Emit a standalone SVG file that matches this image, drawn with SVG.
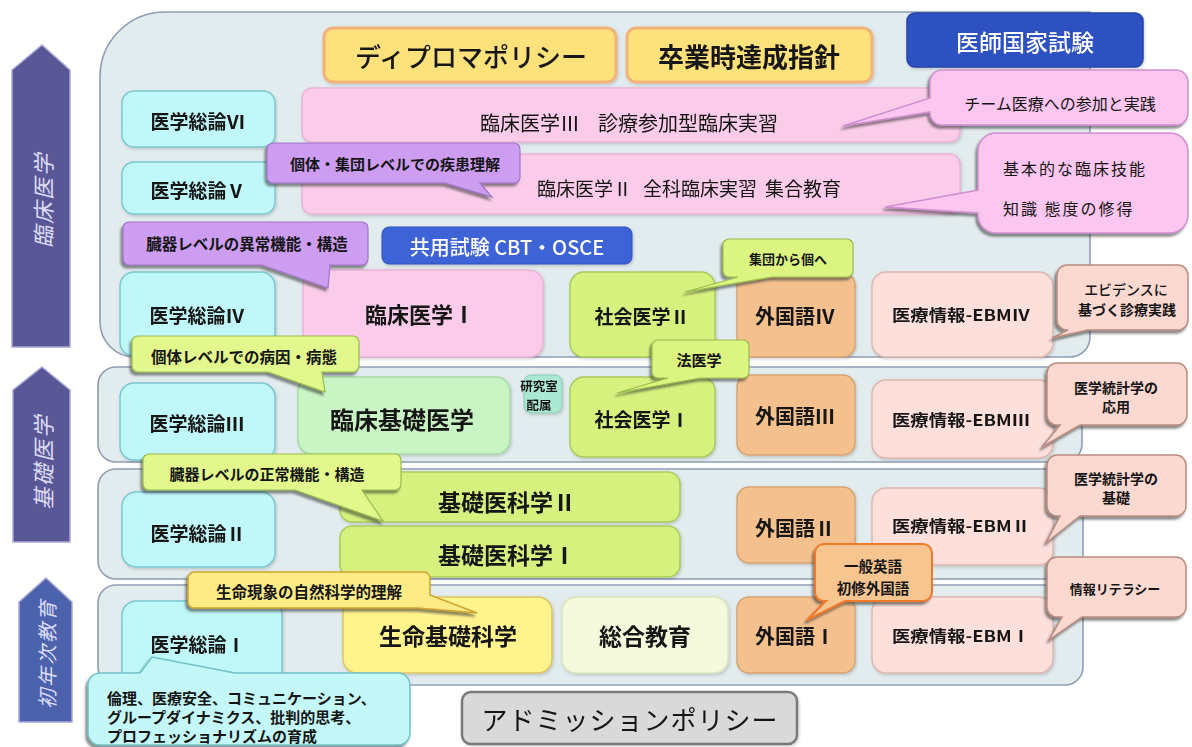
<svg xmlns="http://www.w3.org/2000/svg" width="1192" height="747" viewBox="0 0 1192 747">
<defs>
<style>
.t{font-family:"Noto Sans CJK JP","Noto Sans CJK SC",sans-serif;text-anchor:middle;dominant-baseline:central;fill:#151515}
.s{text-anchor:start}
.b{font-weight:700}
.m{font-weight:500}
.w{fill:#ffffff}
.band{fill:#e2ecee;stroke:#8e9db4;stroke-width:1.6}
.cy{fill:#c0f7f9;stroke:#7cc8cf;stroke-width:1.5}
.pk{fill:#fbcce9;stroke:#edb2d6;stroke-width:1.5}
.gr{fill:#d6f17e;stroke:#a9cb5c;stroke-width:1.5}
.mi{fill:#c9f4c4;stroke:#a6dba6;stroke-width:1.5}
.or{fill:#f3c08e;stroke:#d6a272;stroke-width:1.5}
.eb{fill:#fde0dc;stroke:#deb6ae;stroke-width:1.5}
.ye{fill:#fff38e;stroke:#dcc462;stroke-width:1.5}
.pa{fill:#f3f9da;stroke:#d9e6bd;stroke-width:1.5}
.arw{stroke:#a9a8d6;stroke-width:1.5}
.cpu{fill:#cc9df1;stroke:#9f74c6;stroke-width:1.2}
.cgr{fill:#dcf480;stroke:#98bb4e;stroke-width:1.2}
.cpk{fill:#fbc6ef;stroke:#cf8fd0;stroke-width:1.5}
.cpe{fill:#fbd9d1;stroke:#b98c80;stroke-width:1.5}
</style>
<filter id="sh" x="-10%" y="-20%" width="125%" height="150%"><feDropShadow dx="-2" dy="3" stdDeviation="1.2" flood-color="#303030" flood-opacity="0.55"/></filter>
<filter id="bs" x="-5%" y="-5%" width="115%" height="120%"><feDropShadow dx="1" dy="1.5" stdDeviation="1.5" flood-color="#000" flood-opacity="0.18"/></filter>
</defs>
<rect width="1192" height="747" fill="#ffffff"/>

<g id="stage-arrows">
<g id="arrow-rinsho"><path class="arw" d="M42,45 L70,70 V347 H12 V70 Z" fill="#5a5797"/><text class="t" transform="translate(42,200) rotate(-90)" font-size="22" font-style="italic" letter-spacing="2" style="fill:#dcdcf6">臨床医学</text></g>
<g id="arrow-kiso"><path class="arw" d="M42,367 L70,390 V542 H13 V390 Z" fill="#5a5797"/><text class="t" transform="translate(42,462) rotate(-90)" font-size="22" font-style="italic" letter-spacing="2" style="fill:#dcdcf6">基礎医学</text></g>
<g id="arrow-shonen"><path class="arw" d="M46,578 L72,602 V722 H19 V602 Z" fill="#4d62ad"/><text class="t" transform="translate(46,654) rotate(-90)" font-size="20" font-style="italic" letter-spacing="2" style="fill:#dcdcf6">初年次教育</text></g>
</g>

<g id="bands">
<path id="band-1" class="band" d="M165,12 H1090 V337 A20,20 0 0 1 1070,357 H135 A35,35 0 0 1 100,322 V77 A65,65 0 0 1 165,12 Z"/>
<rect id="band-2" class="band" x="98" y="367" width="984" height="95" rx="18"/>
<rect id="band-3" class="band" x="98" y="469" width="985" height="110" rx="18"/>
<rect id="band-4" class="band" x="98" y="585" width="985" height="100" rx="18"/>
</g>

<g id="connectors"></g>

<g id="nodes" filter="url(#bs)">
<g id="diploma"><rect x="324" y="28" width="292" height="54" rx="9" fill="#fde17a" stroke="#f2b27a" stroke-width="3"/><text class="t m" x="471" y="55" font-size="26">ディプロマポリシー</text></g>
<g id="sotsugyo"><rect x="627" y="28" width="245" height="54" rx="9" fill="#fde17a" stroke="#f2b27a" stroke-width="3"/><text class="t b" x="749" y="55" font-size="26">卒業時達成指針</text></g>
<g id="kokushi"><rect x="907" y="13" width="236" height="54" rx="8" fill="#2f51c2" stroke="#2444a8" stroke-width="1.5"/><text class="t m w" x="1025" y="41" font-size="23">医師国家試験</text></g>

<g id="soron6"><rect class="cy" x="122" y="91" width="153" height="56" rx="12"/><text class="t b" x="198" y="120" font-size="19">医学総論Ⅵ</text></g>
<g id="rinsho3"><rect class="pk" x="302" y="88" width="658" height="54" rx="10"/><text class="t s" x="480" y="122" font-size="20">臨床医学Ⅲ <tspan x="598">診療参加型臨床実習</tspan></text></g>
<g id="soron5"><rect class="cy" x="122" y="162" width="153" height="52" rx="12"/><text class="t b" x="198" y="189" font-size="19">医学総論Ⅴ</text></g>
<g id="rinsho2"><rect class="pk" x="302" y="154" width="658" height="60" rx="10"/><text class="t s" x="537" y="187" font-size="19">臨床医学Ⅱ <tspan x="643">全科臨床実習</tspan> <tspan x="765">集合教育</tspan></text></g>

<g id="cbt-osce"><rect x="382" y="227" width="250" height="37" rx="7" fill="#3d64d6" stroke="#2f52b8" stroke-width="1"/><text class="t m w" x="507" y="246" font-size="20">共用試験 CBT・OSCE</text></g>
<g id="soron4"><rect class="cy" x="120" y="272" width="155" height="84" rx="14"/><text class="t b" x="197" y="314" font-size="19">医学総論Ⅳ</text></g>
<g id="rinsho1"><rect class="pk" x="303" y="270" width="240" height="87" rx="14"/><text class="t b" x="420" y="313" font-size="22">臨床医学Ⅰ</text></g>
<g id="shakai2"><rect class="gr" x="570" y="272" width="145" height="85" rx="14"/><text class="t b" x="642" y="315" font-size="19">社会医学Ⅱ</text></g>
<g id="gaikoku4"><rect class="or" x="737" y="273" width="118" height="84" rx="12"/><text class="t b" x="795" y="315" font-size="20">外国語Ⅳ</text></g>
<g id="ebm4"><rect class="eb" x="872" y="272" width="181" height="85" rx="14"/><text class="t b" x="961" y="314" font-size="16" textLength="138" lengthAdjust="spacingAndGlyphs">医療情報-EBMⅣ</text></g>

<g id="soron3"><rect class="cy" x="120" y="383" width="155" height="77" rx="14"/><text class="t b" x="197" y="422" font-size="19">医学総論Ⅲ</text></g>
<g id="rinsho-kiso"><rect class="mi" x="298" y="377" width="212" height="77" rx="14"/><text class="t b" x="402" y="418" font-size="24">臨床基礎医学</text></g>
<g id="kenkyushitsu"><rect x="524" y="375" width="38" height="38" rx="7" fill="#abe8d4" stroke="#88c8b0" stroke-width="1"/><text class="t b" x="539" y="385" font-size="12.5">研究室</text><text class="t b" x="539" y="404" font-size="12.5">配属</text></g>
<g id="shakai1"><rect class="gr" x="570" y="377" width="145" height="80" rx="14"/><text class="t b" x="642" y="418" font-size="19">社会医学Ⅰ</text></g>
<g id="gaikoku3"><rect class="or" x="737" y="375" width="118" height="80" rx="12"/><text class="t b" x="795" y="415" font-size="20">外国語Ⅲ</text></g>
<g id="ebm3"><rect class="eb" x="872" y="380" width="181" height="78" rx="14"/><text class="t b" x="961" y="419" font-size="16" textLength="138" lengthAdjust="spacingAndGlyphs">医療情報-EBMⅢ</text></g>

<g id="soron2"><rect class="cy" x="122" y="492" width="153" height="75" rx="14"/><text class="t b" x="198" y="532" font-size="19">医学総論Ⅱ</text></g>
<g id="kisoika2"><rect class="gr" x="340" y="472" width="340" height="50" rx="12"/><text class="t b" x="507" y="501" font-size="23">基礎医科学Ⅱ</text></g>
<g id="kisoika1"><rect class="gr" x="340" y="526" width="340" height="51" rx="12"/><text class="t b" x="507" y="554" font-size="23">基礎医科学Ⅰ</text></g>
<g id="gaikoku2"><rect class="or" x="737" y="487" width="118" height="76" rx="12"/><text class="t b" x="795" y="527" font-size="20">外国語Ⅱ</text></g>
<g id="ebm2"><rect class="eb" x="872" y="488" width="181" height="77" rx="14"/><text class="t b" x="961" y="525" font-size="16" textLength="138" lengthAdjust="spacingAndGlyphs">医療情報-EBMⅡ</text></g>

<g id="soron1"><rect class="cy" x="122" y="601" width="160" height="92" rx="14"/><text class="t b" x="198" y="643" font-size="19">医学総論Ⅰ</text></g>
<g id="seimei"><rect class="ye" x="343" y="597" width="209" height="76" rx="14"/><text class="t b" x="448" y="635" font-size="23">生命基礎科学</text></g>
<g id="sogo"><rect class="pa" x="562" y="597" width="166" height="76" rx="14"/><text class="t b" x="645" y="635" font-size="23">総合教育</text></g>
<g id="gaikoku1"><rect class="or" x="737" y="597" width="118" height="76" rx="12"/><text class="t b" x="795" y="635" font-size="20">外国語Ⅰ</text></g>
<g id="ebm1"><rect class="eb" x="872" y="597" width="181" height="76" rx="14"/><text class="t b" x="961" y="635" font-size="16" textLength="138" lengthAdjust="spacingAndGlyphs">医療情報-EBMⅠ</text></g>

<g id="admission"><rect x="462" y="692" width="335" height="52" rx="9" fill="#d9d9d9" stroke="#7a7a7a" stroke-width="2.5"/><text class="t" x="630" y="718" font-size="26" letter-spacing="1">アドミッションポリシー</text></g>
</g>

<g id="callouts">
<g id="c-team"><path class="cpk" filter="url(#sh)" d="M942,70 H1176 A12,12 0 0 1 1188,82 V113 A12,12 0 0 1 1176,125 H942 A12,12 0 0 1 930,113 V112 L843,126 L930,98 V82 A12,12 0 0 1 942,70 Z"/><text class="t" x="1060" y="103" font-size="16">チーム医療への参加と実践</text></g>
<g id="c-kihon"><path class="cpk" filter="url(#sh)" d="M996,133 H1170 A18,18 0 0 1 1188,151 V215 A18,18 0 0 1 1170,233 H996 A18,18 0 0 1 978,215 V213 L885,207 L978,190 V151 A18,18 0 0 1 996,133 Z"/><text class="t s" x="1003" y="168" font-size="16" letter-spacing="2">基本的な臨床技能</text><text class="t s" x="1003" y="208" font-size="16" letter-spacing="2">知識 態度の修得</text></g>
<g id="c-kotai-shudan"><path class="cpu" filter="url(#sh)" d="M273,143 H514 A6,6 0 0 1 520,149 V177 A6,6 0 0 1 514,183 H480 L492,197 L445,183 H273 A6,6 0 0 1 267,177 V149 A6,6 0 0 1 273,143 Z"/><text class="t b" x="395" y="163" font-size="15">個体・集団レベルでの疾患理解</text></g>
<g id="c-zoki-ijo"><path class="cpu" filter="url(#sh)" d="M129,222 H362 A6,6 0 0 1 368,228 V259 A6,6 0 0 1 362,265 H330 L328,288 L262,265 H129 A6,6 0 0 1 123,259 V228 A6,6 0 0 1 129,222 Z"/><text class="t b" x="247" y="243" font-size="15.5">臓器レベルの異常機能・構造</text></g>
<g id="c-shudan"><path class="cgr" filter="url(#sh)" d="M729,239 H847 A6,6 0 0 1 853,245 V271 A6,6 0 0 1 847,277 H772 L685,292 L738,277 H729 A6,6 0 0 1 723,271 V245 A6,6 0 0 1 729,239 Z"/><text class="t b" x="788" y="258" font-size="13">集団から個へ</text></g>
<g id="c-hoigaku"><path class="cgr" filter="url(#sh)" d="M658,340 H743 A6,6 0 0 1 749,346 V372 A6,6 0 0 1 743,378 H700 L617,393 L668,378 H658 A6,6 0 0 1 652,372 V346 A6,6 0 0 1 658,340 Z"/><text class="t b" x="699" y="359" font-size="15">法医学</text></g>
<g id="c-evidence"><path class="cpe" filter="url(#sh)" d="M1067,265 H1178 A10,10 0 0 1 1188,275 V320 A10,10 0 0 1 1178,330 H1088 L1052,338 L1068,330 H1067 A10,10 0 0 1 1057,320 V275 A10,10 0 0 1 1067,265 Z"/><text class="t m" x="1126" y="289" font-size="14">エビデンスに</text><text class="t b" x="1127" y="309" font-size="14">基づく診療実践</text></g>
<g id="c-kotai"><path class="cgr" filter="url(#sh)" style="fill:#e2f78c" d="M138,336 H353 A6,6 0 0 1 359,342 V366 A6,6 0 0 1 353,372 H322 L325,392 L268,372 H138 A6,6 0 0 1 132,366 V342 A6,6 0 0 1 138,336 Z"/><text class="t b" x="244" y="356" font-size="15.5">個体レベルでの病因・病態</text></g>
<g id="c-oyo"><path class="cpe" filter="url(#sh)" d="M1057,363 H1177 A10,10 0 0 1 1187,373 V415 A10,10 0 0 1 1177,425 H1080 L1042,447 L1060,425 H1057 A10,10 0 0 1 1047,415 V373 A10,10 0 0 1 1057,363 Z"/><text class="t b" x="1116" y="387" font-size="14">医学統計学の</text><text class="t b" x="1116" y="406" font-size="14">応用</text></g>
<g id="c-zoki-seijo"><path class="cgr" filter="url(#sh)" style="fill:#e2f78c" d="M149,454 H395 A6,6 0 0 1 401,460 V484 A6,6 0 0 1 395,490 H362 L383,521 L295,490 H149 A6,6 0 0 1 143,484 V460 A6,6 0 0 1 149,454 Z"/><text class="t b" x="267" y="473" font-size="15">臓器レベルの正常機能・構造</text></g>
<g id="c-kiso"><path class="cpe" filter="url(#sh)" d="M1057,455 H1176 A10,10 0 0 1 1186,465 V506 A10,10 0 0 1 1176,516 H1080 L1046,543 L1060,516 H1057 A10,10 0 0 1 1047,506 V465 A10,10 0 0 1 1057,455 Z"/><text class="t b" x="1116" y="478" font-size="14">医学統計学の</text><text class="t b" x="1116" y="497" font-size="14">基礎</text></g>
<g id="c-eigo"><path filter="url(#sh)" fill="#f6c590" stroke="#f07828" stroke-width="2" d="M824,544 H923 A9,9 0 0 1 932,553 V592 A9,9 0 0 1 923,601 H845 L807,620 L826,601 H824 A9,9 0 0 1 815,592 V553 A9,9 0 0 1 824,544 Z"/><text class="t b" x="873" y="565" font-size="14.5">一般英語</text><text class="t b" x="873" y="587" font-size="14.5">初修外国語</text></g>
<g id="c-joho"><path class="cpe" filter="url(#sh)" d="M1057,557 H1176 A10,10 0 0 1 1186,567 V607 A10,10 0 0 1 1176,617 H1082 L1049,640 L1062,617 H1057 A10,10 0 0 1 1047,607 V567 A10,10 0 0 1 1057,557 Z"/><text class="t b" x="1115" y="588" font-size="13">情報リテラシー</text></g>
<g id="c-seimei"><path filter="url(#sh)" fill="#fdeb85" stroke="#cfa42e" stroke-width="1.5" d="M194,572 H424 A6,6 0 0 1 430,578 V595 L477,613 L418,608 H194 A6,6 0 0 1 188,602 V578 A6,6 0 0 1 194,572 Z"/><text class="t b" x="309" y="591" font-size="15.5">生命現象の自然科学的理解</text></g>
<g id="c-rinri"><path filter="url(#sh)" fill="#c4f8f8" stroke="#70c0c8" stroke-width="1.5" d="M100,673 H140 L152,657 L235,673 H398 A12,12 0 0 1 410,685 V733 A12,12 0 0 1 398,745 H100 A12,12 0 0 1 88,733 V685 A12,12 0 0 1 100,673 Z"/><text class="t s b" x="107" y="697" font-size="15">倫理、医療安全、コミュニケーション、</text><text class="t s b" x="107" y="716" font-size="15">グループダイナミクス、批判的思考、</text><text class="t s b" x="107" y="735" font-size="15">プロフェッショナリズムの育成</text></g>
</g>
</svg>
